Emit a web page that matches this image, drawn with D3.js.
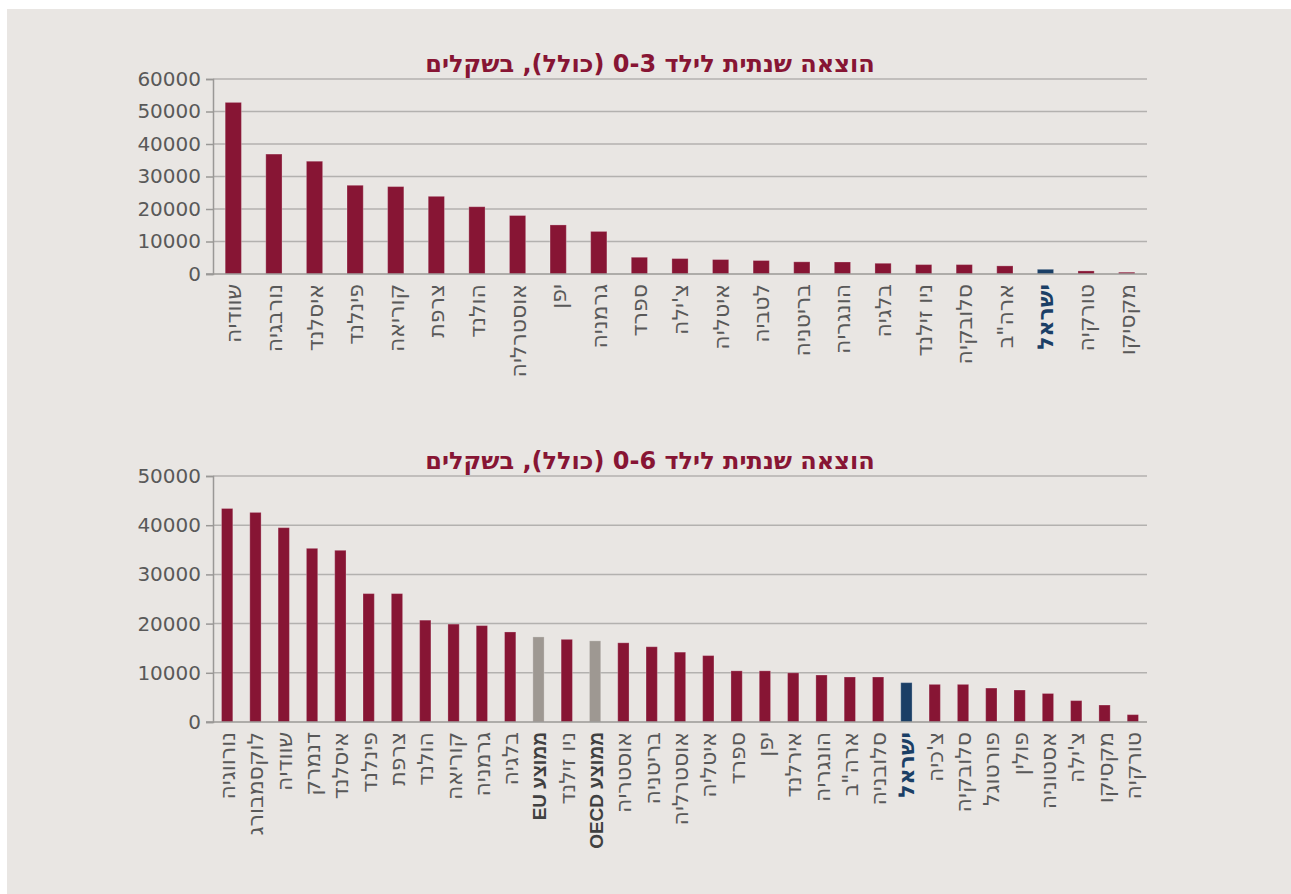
<!DOCTYPE html>
<html>
<head>
<meta charset="utf-8">
<script src="https://cdn.jsdelivr.net/npm/d3@7"></script>
<style>
  body { margin: 0; background: #ffffff; }
  svg { display: block; font-family: "DejaVu Sans", sans-serif; }
</style>
</head>
<body>
<svg id="chart" width="1291" height="894"></svg>
<script>
// --- data: annual spending per child, NIS ---
var title03 = "הוצאה שנתית לילד 0-3 (כולל), בשקלים";
var countries03 = ["שוודיה", "נורבגיה", "איסלנד", "פינלנד", "קוריאה", "צרפת", "הולנד", "אוסטרליה", "יפן", "גרמניה",
  "ספרד", "צ'ילה", "איטליה", "לטביה", "בריטניה", "הונגריה", "בלגיה", "ניו זילנד", "סלובקיה", "ארה\"ב", "ישראל", "טורקיה", "מקסיקו"];
var values03 = [52800, 36900, 34700, 27300, 26900, 23900, 20700, 18000, 15100, 13100,
  5150, 4750, 4450, 4150, 3750, 3700, 3300, 2900, 2900, 2500, 1450, 950, 550];
var ticks03 = [0, 10000, 20000, 30000, 40000, 50000, 60000];

var title06 = "הוצאה שנתית לילד 0-6 (כולל), בשקלים";
var countries06 = ["נורווגיה", "לוקסמבורג", "שוודיה", "דנמרק", "איסלנד", "פינלנד", "צרפת", "הולנד", "קוריאה", "גרמניה", "בלגיה",
  "ממוצע EU", "ניו זילנד", "ממוצע OECD", "אוסטריה", "בריטניה", "אוסטרליה", "איטליה", "ספרד", "יפן", "אירלנד", "הונגריה",
  "ארה\"ב", "סלובניה", "ישראל", "צ'כיה", "סלובקיה", "פורטוגל", "פולין", "אסטוניה", "צ'ילה", "מקסיקו", "טורקיה"];
var values06 = [43400, 42600, 39500, 35300, 34900, 26100, 26100, 20700, 19900, 19600, 18300,
  17300, 16800, 16500, 16100, 15300, 14200, 13500, 10400, 10400, 10000, 9550,
  9150, 9150, 8000, 7650, 7650, 6900, 6500, 5800, 4350, 3450, 1500];
var ticks06 = [0, 10000, 20000, 30000, 40000, 50000];

var highlight = "ישראל";
var averages = ["ממוצע EU", "ממוצע OECD"];

var colMain = "#871534", colIsrael = "#1b3f66", colAvg = "#9e9892";

var svg = d3.select("#chart");
var W = 1291, H = 894;

svg.append("rect").attr("x", 7).attr("y", 9).attr("width", W - 7).attr("height", H - 9)
  .attr("fill", "#e9e6e3");

function drawChart(opt) {
  var x = d3.scaleBand().domain(opt.cats).range([opt.left, opt.right]).paddingInner(opt.pad).paddingOuter(opt.pad / 2);
  var y = d3.scaleLinear().domain([0, d3.max(opt.ticks)]).range([opt.bottom, opt.top]);

  var g = svg.append("g");

  // title
  g.append("text")
    .attr("x", 650).attr("y", opt.titleY)
    .attr("text-anchor", "middle")
    .attr("direction", "rtl")
    .style("font-size", "24px").style("font-weight", "bold")
    .attr("fill", colMain)
    .text(opt.title);

  // gridlines
  g.selectAll(".grid").data(opt.ticks.slice(1)).enter().append("line")
    .attr("x1", opt.left).attr("x2", opt.right)
    .attr("y1", function(d) { return y(d); }).attr("y2", function(d) { return y(d); })
    .attr("stroke", "#b3b1af").attr("stroke-width", 1.5);

  // y axis
  var yAxis = d3.axisLeft(y).tickValues(opt.ticks).tickSize(7).tickFormat(d3.format("d"));
  var ya = g.append("g").attr("transform", "translate(" + opt.left + ",0)").call(yAxis);
  ya.select(".domain").attr("stroke", "#9a9896").attr("stroke-width", 1.5);
  ya.selectAll(".tick line").attr("stroke", "#9a9896").attr("stroke-width", 1.5);
  ya.selectAll(".tick text").attr("x", -12).attr("fill", "#595959")
    .style("font-size", "20px").style("font-family", "'DejaVu Sans', sans-serif");

  // bars
  g.selectAll(".bar").data(opt.vals).enter().append("rect")
    .attr("x", function(d, i) { return x(opt.cats[i]); })
    .attr("width", x.bandwidth())
    .attr("y", function(d) { return y(d); })
    .attr("height", function(d) { return y(0) - y(d); })
    .attr("fill", function(d, i) {
      var c = opt.cats[i];
      if (c === highlight) return colIsrael;
      if (averages.indexOf(c) >= 0) return colAvg;
      return colMain;
    })
    .attr("stroke", "rgba(255,255,255,0.25)").attr("stroke-width", 1);

  // x baseline
  g.append("line").attr("x1", opt.left - 7).attr("x2", opt.right)
    .attr("y1", y(0)).attr("y2", y(0))
    .attr("stroke", "#9a9896").attr("stroke-width", 1.5);

  // category labels, rotated
  g.selectAll(".cat").data(opt.cats).enter().append("text")
    .attr("transform", function(d) {
      return "translate(" + (x(d) + x.bandwidth() / 2 + 8) + "," + (y(0) + 10) + ") rotate(-90)";
    })
    .attr("direction", "rtl")
    .attr("text-anchor", "start")
    .style("font-size", function(d) { return averages.indexOf(d) >= 0 ? "19px" : "22px"; })
    .style("font-family", function(d) { return averages.indexOf(d) >= 0 ? "'Liberation Sans', sans-serif" : null; })
    .style("font-weight", function(d) { return (d === highlight || averages.indexOf(d) >= 0) ? "bold" : "normal"; })
    .attr("fill", function(d) {
      if (d === highlight) return colIsrael;
      if (averages.indexOf(d) >= 0) return "#404040";
      return "#595959";
    })
    .text(function(d) { return d; });
}

drawChart({ cats: countries03, vals: values03, ticks: ticks03, title: title03, titleY: 72,
  left: 213, right: 1147, top: 79, bottom: 274, pad: 0.6 });
drawChart({ cats: countries06, vals: values06, ticks: ticks06, title: title06, titleY: 469,
  left: 213, right: 1147, top: 476, bottom: 722, pad: 0.6 });
</script>
</body>
</html>
